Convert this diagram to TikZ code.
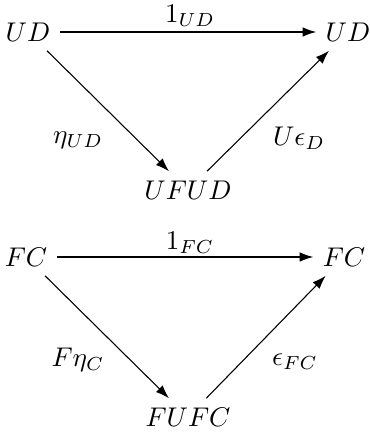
\documentclass[tikz,border=0pt]{standalone}
\usetikzlibrary{arrows.meta}
\begin{document}
\begin{tikzpicture}[x=0.013cm,y=-0.013cm,>={Latex[length=5pt,width=3.5pt]}]
  \useasboundingbox (0,0) rectangle (369,433);
  \node (A) at (28,32) {$UD$}; \node (B) at (348,32) {$UD$}; \node (C) at (188,190) {$UFUD$};
  \node (D) at (26,257) {$FC$}; \node (E) at (344,257) {$FC$}; \node (F) at (188,417) {$FUFC$};
  \draw[->] (A)--(B); \draw[->] (A)--(C); \draw[->] (C)--(B);
  \draw[->] (D)--(E); \draw[->] (D)--(F); \draw[->] (F)--(E);
  \foreach \n/\x/\y/\t in {lAB/190/16/1_{UD},lAC/78/140/\eta_{UD},lCB/299/138/U\epsilon_D,
    lDE/190/243/1_{FC},lDF/78/360/F\eta_C,lFE/295/362/\epsilon_{FC}}\node(\n) at (\x,\y) {$\t$};
\end{tikzpicture}
\end{document}
